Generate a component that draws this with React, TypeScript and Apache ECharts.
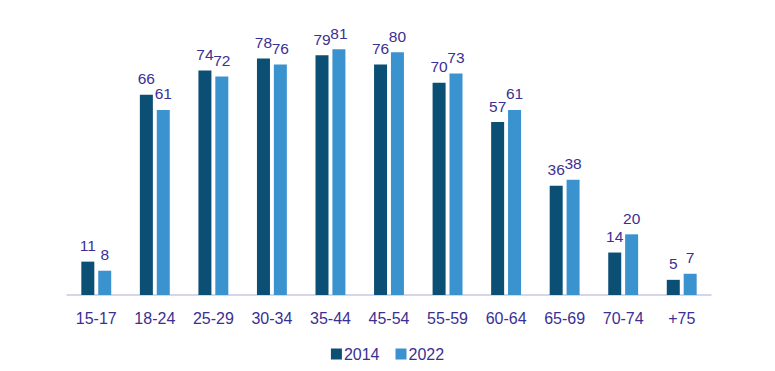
import React, { useEffect, useRef } from "react";
import * as echarts from "echarts";

const categories = ["15-17", "18-24", "25-29", "30-34", "35-44", "45-54", "55-59", "60-64", "65-69", "70-74", "+75"];
const series2014 = [11, 66, 74, 78, 79, 76, 70, 57, 36, 14, 5];
const series2022 = [8, 61, 72, 76, 81, 80, 73, 61, 38, 20, 7];

const textColor = "#3b2f94";

export default function App() {
  const ref = useRef<HTMLDivElement>(null);
  useEffect(() => {
    if (!ref.current) return;
    const chart = echarts.init(ref.current, null, { renderer: "svg" });
    chart.setOption({
      animation: false,
      textStyle: { fontFamily: "Liberation Sans, Arial, sans-serif" },
      grid: { left: 67, right: 64, top: 22, bottom: 76, containLabel: false },
      legend: {
        bottom: 4,
        left: "center",
        itemWidth: 11,
        itemHeight: 11,
        itemGap: 16,
        icon: "rect",
        textStyle: { color: textColor, fontSize: 16, padding: [0, 0, 0, -3] },
        data: ["2014", "2022"],
      },
      xAxis: {
        type: "category",
        data: categories,
        axisLine: { lineStyle: { color: "#cbc7e2", width: 1.5 } },
        axisTick: { show: false },
        axisLabel: { color: textColor, fontSize: 16, margin: 15 },
      },
      yAxis: {
        type: "value",
        min: 0,
        max: 90,
        show: false,
        splitLine: { show: false },
      },
      series: [
        {
          name: "2014",
          type: "bar",
          data: series2014,
          barWidth: 13,
          barGap: "30%",
          itemStyle: { color: "#0b4f74" },
          label: { show: true, position: "top", distance: 8, color: textColor, fontSize: 15.5 },
        },
        {
          name: "2022",
          type: "bar",
          data: series2022,
          barWidth: 13,
          itemStyle: { color: "#3a93cf" },
          label: { show: true, position: "top", distance: 8, color: textColor, fontSize: 15.5 },
        },
      ],
    });
    return () => chart.dispose();
  }, []);
  return <div ref={ref} style={{ width: 775, height: 371, margin: -8 }} />;
}
